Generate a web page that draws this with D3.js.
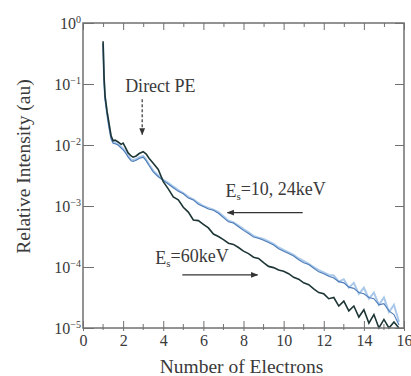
<!DOCTYPE html>
<html>
<head>
<meta charset="utf-8">
<script src="https://cdn.jsdelivr.net/npm/d3@7"></script>
<style>
  body { margin: 0; background: #fff; }
  svg text { font-family: "Liberation Serif", "DejaVu Serif", serif; fill: #3a3a3a; }
  .axis path, .axis line { stroke: #707070; }
</style>
</head>
<body>
<script>
// number of electrons (shared x for all spectra)
const electrons = [1.0, 1.05, 1.1, 1.2, 1.3, 1.4, 1.5, 1.6, 1.75, 1.9, 2.0, 2.1, 2.25, 2.4, 2.5, 2.65, 2.8, 3.0, 3.15, 3.3,
  3.5, 3.75, 4.0, 4.25, 4.5, 4.75, 5.0, 5.25, 5.5, 5.75, 6.0, 6.25, 6.5, 6.75, 7.0, 7.25, 7.5, 7.75, 8.0, 8.25,
  8.5, 8.75, 9.0, 9.25, 9.5, 9.75, 10.0, 10.25, 10.5, 10.75, 11.0, 11.25, 11.5, 11.75, 12.0, 12.25, 12.5, 12.75, 13.0, 13.25,
  13.5, 13.75, 14.0, 14.25, 14.5, 14.75, 15.0, 15.25, 15.5, 15.75];

// log10 of relative intensity
const log60keV = [-0.30, -0.90, -1.20, -1.45, -1.65, -1.85, -1.93, -1.92, -1.95, -1.99, -1.97, -2.03, -2.13, -2.18, -2.20, -2.18, -2.14, -2.11, -2.15, -2.22,
  -2.30, -2.40, -2.60, -2.72, -2.85, -2.90, -3.02, -3.10, -3.23, -3.24, -3.30, -3.36, -3.46, -3.50, -3.55, -3.61, -3.63, -3.68, -3.74, -3.78,
  -3.84, -3.86, -3.93, -3.99, -4.01, -4.05, -4.07, -4.11, -4.17, -4.20, -4.26, -4.29, -4.36, -4.42, -4.44, -4.52, -4.50, -4.64, -4.56, -4.72,
  -4.64, -4.82, -4.70, -4.92, -4.78, -5.00, -4.86, -5.00, -4.90, -5.00];

const log10keV = [-0.35, -0.95, -1.25, -1.50, -1.72, -1.90, -1.97, -1.98, -2.00, -2.05, -2.08, -2.12, -2.20, -2.26, -2.27, -2.25, -2.22, -2.20, -2.26, -2.34,
  -2.44, -2.52, -2.58, -2.64, -2.70, -2.76, -2.80, -2.87, -2.90, -2.97, -3.01, -3.05, -3.07, -3.12, -3.19, -3.26, -3.28, -3.34, -3.40, -3.45,
  -3.51, -3.53, -3.56, -3.60, -3.64, -3.70, -3.74, -3.78, -3.82, -3.88, -3.93, -3.96, -4.02, -4.08, -4.11, -4.15, -4.18, -4.24, -4.26, -4.33,
  -4.35, -4.42, -4.44, -4.50, -4.52, -4.62, -4.60, -4.72, -4.78, -4.95];

const log24keV = [-0.33, -0.93, -1.23, -1.48, -1.70, -1.88, -1.95, -1.96, -1.99, -2.03, -2.06, -2.10, -2.18, -2.24, -2.25, -2.23, -2.20, -2.18, -2.24, -2.32,
  -2.42, -2.50, -2.57, -2.62, -2.68, -2.74, -2.79, -2.85, -2.89, -2.95, -3.00, -3.03, -3.06, -3.10, -3.17, -3.24, -3.27, -3.32, -3.38, -3.43,
  -3.49, -3.52, -3.54, -3.58, -3.62, -3.68, -3.72, -3.76, -3.80, -3.86, -3.90, -3.95, -4.00, -4.05, -4.09, -4.13, -4.14, -4.24, -4.20, -4.34,
  -4.26, -4.44, -4.34, -4.52, -4.42, -4.62, -4.50, -4.74, -4.62, -4.90];

const xMajor = [0, 2, 4, 6, 8, 10, 12, 14, 16];
const xMinor = [1, 3, 5, 7, 9, 11, 13, 15];
const yDecades = [0, -1, -2, -3, -4, -5];

const margin = {top: 23, right: 7, bottom: 48, left: 83};
const W = 411, H = 376;
const width = W - margin.left - margin.right;
const height = H - margin.top - margin.bottom;

const x = d3.scaleLinear().domain([0, 16]).range([0, width]);
const y = d3.scaleLog().domain([1e-5, 1]).range([height, 0]);

const svg = d3.select("body").append("svg")
  .attr("width", W).attr("height", H)
  .append("g")
  .attr("transform", "translate(" + margin.left + "," + margin.top + ")");

// curves
const line = d3.line()
  .x(d => x(d[0]))
  .y(d => y(Math.pow(10, Math.max(d[1], -5))));

svg.append("path")
  .datum(electrons.map((e, i) => [e, log24keV[i]]))
  .attr("fill", "none").attr("stroke", "#a9c8ea").attr("stroke-width", 2)
  .attr("d", line);
svg.append("path")
  .datum(electrons.map((e, i) => [e, log10keV[i]]))
  .attr("fill", "none").attr("stroke", "#4f7db8").attr("stroke-width", 1.1)
  .attr("d", line);
svg.append("path")
  .datum(electrons.map((e, i) => [e, log60keV[i]]))
  .attr("fill", "none").attr("stroke", "#1d3535").attr("stroke-width", 1.6)
  .attr("d", line);

// frame
svg.append("rect")
  .attr("width", width).attr("height", height)
  .attr("fill", "none").attr("stroke", "#707070").attr("stroke-width", 1.5);

// bottom axis
const xAxis = d3.axisBottom(x).tickValues(xMajor).tickSize(-7).tickFormat(d3.format("d"));
const gx = svg.append("g").attr("class", "axis")
  .attr("transform", "translate(0," + height + ")")
  .call(xAxis);
gx.select(".domain").remove();
gx.selectAll("line").attr("y2", -7).attr("y1", 3);
gx.selectAll("text").style("font-size", "16px").attr("y", 7);
gx.selectAll(".minor").data(xMinor).enter().append("line")
  .attr("class", "minor")
  .attr("x1", d => x(d)).attr("x2", d => x(d))
  .attr("y1", 2).attr("y2", -4);

// top axis
const xTop = d3.axisTop(x).tickValues(xMajor.concat(xMinor)).tickSize(0).tickFormat("");
const gt = svg.append("g").attr("class", "axis").call(xTop);
gt.select(".domain").remove();
gt.selectAll(".tick line").attr("y1", 0).attr("y2", d => (d % 2 === 0 ? 7 : 4));

// left axis
const yAxis = d3.axisLeft(y).tickValues(yDecades.map(p => Math.pow(10, p))).tickSize(-11).tickFormat("");
const gy = svg.append("g").attr("class", "axis").call(yAxis);
gy.select(".domain").remove();
gy.selectAll(".tick").each(function(d, i) {
  const t = d3.select(this).append("text")
    .attr("x", -2).attr("dy", "0.35em")
    .attr("text-anchor", "end")
    .style("font-size", "16px");
  t.append("tspan").text("10");
  t.append("tspan").attr("dy", "-0.6em").style("font-size", "10px")
    .text(yDecades[i] === 0 ? "0" : "\u2212" + (-yDecades[i]));
});

// right axis
const yRight = d3.axisRight(y).tickValues(yDecades.map(p => Math.pow(10, p))).tickSize(-9).tickFormat("");
const gr = svg.append("g").attr("class", "axis").attr("transform", "translate(" + width + ",0)").call(yRight);
gr.select(".domain").remove();

// axis titles
svg.append("text")
  .attr("x", width / 2 - 2).attr("y", height + 45)
  .attr("text-anchor", "middle")
  .style("font-size", "19.5px")
  .text("Number of Electrons");
svg.append("text")
  .attr("transform", "translate(" + (-53) + "," + (height / 2 - 9) + ") rotate(-90)")
  .attr("text-anchor", "middle")
  .style("font-size", "19.5px")
  .text("Relative Intensity (au)");

// annotations
const defs = svg.append("defs");
defs.append("marker").attr("id", "head").attr("viewBox", "0 0 10 10")
  .attr("refX", 9).attr("refY", 5).attr("markerWidth", 6).attr("markerHeight", 6)
  .attr("orient", "auto")
  .append("path").attr("d", "M0,1 L10,5 L0,9 Z").attr("fill", "#333");

svg.append("text")
  .attr("x", x(2.1)).attr("y", y(Math.pow(10, -1.13)))
  .style("font-size", "18px")
  .text("Direct PE");
svg.append("line")
  .attr("x1", x(2.95)).attr("x2", x(2.95))
  .attr("y1", y(Math.pow(10, -1.25))).attr("y2", y(Math.pow(10, -1.83)))
  .attr("stroke", "#333").attr("stroke-width", 1.2).attr("stroke-dasharray", "3,2")
  .attr("marker-end", "url(#head)");

const lab1 = svg.append("text")
  .attr("x", x(7.1)).attr("y", y(Math.pow(10, -2.85)))
  .style("font-size", "18px");
lab1.append("tspan").text("E");
lab1.append("tspan").attr("dy", "0.3em").style("font-size", "11px").text("s");
lab1.append("tspan").attr("dy", "-0.3em").text("=10, 24keV");
svg.append("line")
  .attr("x1", x(10.95)).attr("x2", x(7.2))
  .attr("y1", y(Math.pow(10, -3.11))).attr("y2", y(Math.pow(10, -3.11)))
  .attr("stroke", "#333").attr("stroke-width", 1.2)
  .attr("marker-end", "url(#head)");

const lab2 = svg.append("text")
  .attr("x", x(3.6)).attr("y", y(Math.pow(10, -3.95)))
  .style("font-size", "18px");
lab2.append("tspan").text("E");
lab2.append("tspan").attr("dy", "0.3em").style("font-size", "11px").text("s");
lab2.append("tspan").attr("dy", "-0.3em").text("=60keV");
svg.append("line")
  .attr("x1", x(4.95)).attr("x2", x(8.7))
  .attr("y1", y(Math.pow(10, -4.13))).attr("y2", y(Math.pow(10, -4.13)))
  .attr("stroke", "#333").attr("stroke-width", 1.2)
  .attr("marker-end", "url(#head)");
</script>
</body>
</html>
